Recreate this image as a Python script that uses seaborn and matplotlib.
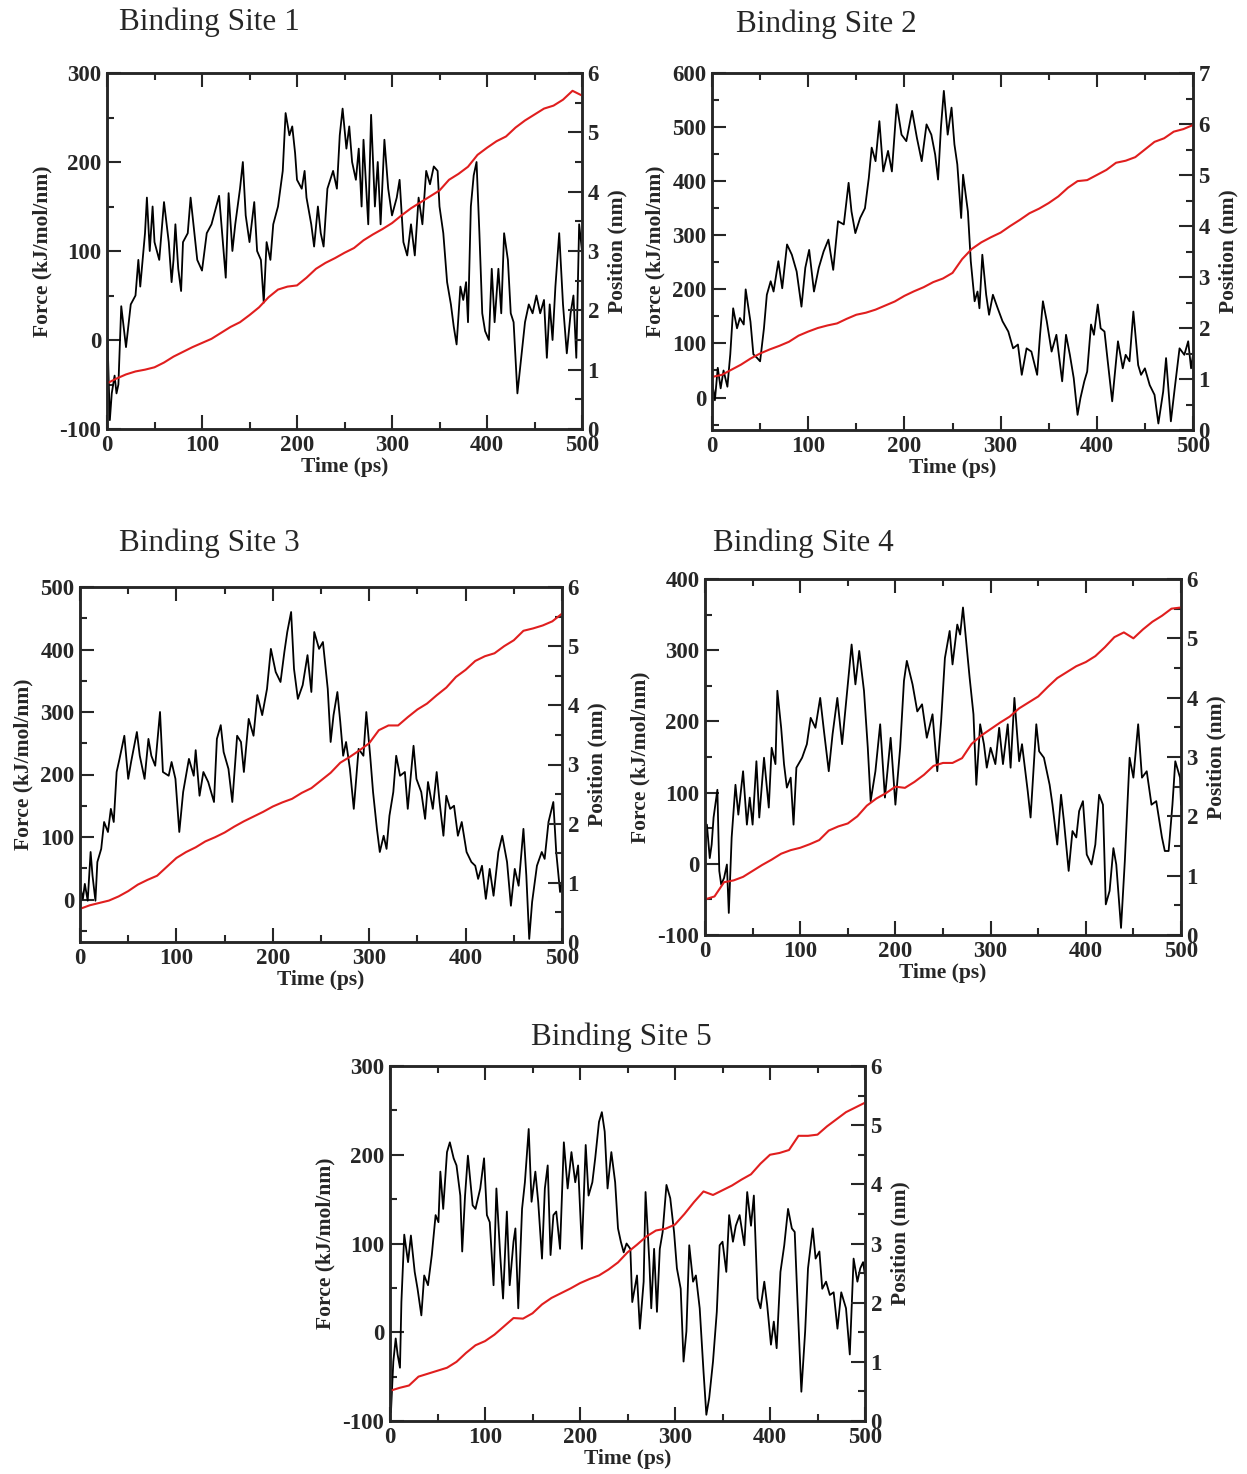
import seaborn as sns
import matplotlib.pyplot as plt
import pandas as pd
from matplotlib.ticker import MultipleLocator

# ---- data ----
pos_time = list(range(0, 501, 10))

# Binding Site 1
t1 = [0, 3, 5, 8, 10, 12, 15, 18, 20, 25, 30, 33, 35, 40, 42, 45, 48, 50, 55, 60,
      65, 68, 70, 72, 75, 78, 80, 85, 88, 92, 95, 100, 105, 110, 115, 118, 122, 125, 128, 132,
      135, 140, 143, 146, 150, 155, 158, 162, 165, 168, 172, 175, 180, 185, 188, 192, 195, 198, 200, 205,
      208, 210, 215, 218, 222, 225, 228, 232, 238, 242, 245, 248, 252, 255, 258, 262, 265, 268, 270, 275,
      278, 282, 285, 288, 292, 296, 300, 305, 308, 312, 316, 320, 324, 328, 332, 336, 340, 344, 348, 350,
      354, 358, 362, 365, 368, 372, 375, 378, 380, 383, 386, 389, 392, 395, 398, 402, 405, 408, 412, 415,
      418, 422, 425, 428, 432, 436, 440, 444, 448, 452, 456, 460, 463, 466, 469, 472, 476, 480, 484, 488,
      491, 494, 497, 500]
f1 = [20, -90, -60, -40, -60, -50, 38, 10, -8, 40, 50, 90, 60, 120, 160, 100, 150, 110, 90, 155,
      110, 65, 90, 130, 80, 55, 110, 120, 160, 120, 90, 78, 120, 130, 150, 162, 110, 70, 165, 100,
      130, 170, 200, 140, 110, 155, 100, 90, 42, 110, 90, 130, 150, 190, 255, 230, 240, 210, 180, 170,
      190, 160, 130, 105, 150, 120, 105, 170, 190, 170, 230, 260, 215, 240, 200, 180, 215, 150, 225, 130,
      253, 150, 200, 130, 225, 170, 140, 160, 180, 110, 95, 130, 95, 160, 130, 190, 175, 195, 190, 150,
      120, 65, 40, 15, -5, 60, 45, 65, 20, 150, 185, 200, 120, 30, 10, 0, 80, 20, 80, 30,
      120, 90, 30, 20, -60, -20, 20, 40, 30, 50, 30, 45, -20, 40, 0, 60, 120, 40, -15, 30,
      50, -20, 130, 100]
p1 = [0.77, 0.85, 0.92, 0.97, 1.0, 1.04, 1.12, 1.22, 1.3, 1.38,
      1.45, 1.52, 1.62, 1.72, 1.8, 1.92, 2.05, 2.22, 2.35, 2.4,
      2.42, 2.55, 2.7, 2.8, 2.88, 2.97, 3.05, 3.18, 3.28, 3.37,
      3.47, 3.6, 3.72, 3.82, 3.92, 4.02, 4.2, 4.3, 4.42, 4.62,
      4.74, 4.85, 4.93, 5.08, 5.2, 5.3, 5.4, 5.45, 5.55, 5.7, 5.62]

# Binding Site 2
t2 = [0, 3, 6, 9, 12, 16, 19, 22, 26, 29, 33, 35, 40, 43, 47, 50, 54, 57, 61, 64,
      69, 73, 78, 83, 88, 93, 97, 101, 106, 111, 116, 121, 126, 131, 137, 142, 145, 149, 154, 159,
      163, 166, 170, 174, 178, 183, 187, 192, 197, 202, 208, 213, 218, 223, 228, 232, 235, 238, 241, 245,
      249, 252, 255, 259, 261, 266, 269, 273, 276, 278, 281, 285, 288, 292, 297, 302, 308, 313, 318, 322,
      327, 332, 338, 341, 344, 348, 353, 358, 364, 368, 372, 376, 380, 383, 387, 390, 394, 397, 401, 404,
      408, 411, 416, 422, 427, 430, 434, 438, 443, 446, 450, 455, 460, 464, 469, 472, 477, 481, 486, 491,
      495, 498, 500]
f2 = [30, -5, 55, 17, 50, 20, 80, 165, 128, 147, 135, 200, 140, 80, 73, 67, 128, 190, 215, 196,
      252, 202, 283, 264, 233, 168, 240, 273, 196, 240, 270, 292, 236, 326, 320, 397, 344, 304, 332, 350,
      406, 462, 437, 511, 418, 456, 418, 542, 486, 474, 530, 480, 437, 505, 486, 449, 403, 500, 567, 486,
      536, 468, 431, 332, 412, 344, 252, 178, 196, 165, 264, 190, 153, 190, 165, 141, 122, 91, 98, 42,
      91, 85, 42, 116, 178, 141, 85, 116, 30, 116, 79, 36, -32, -1, 30, 48, 135, 116, 172, 128,
      122, 73, -7, 104, 54, 79, 67, 159, 60, 42, 54, 23, 5, -48, 11, 73, -44, 17, 91, 79,
      104, 54, 79]
p2 = [1.04, 1.08, 1.18, 1.28, 1.4, 1.5, 1.58, 1.65, 1.73, 1.85,
      1.93, 2.0, 2.05, 2.09, 2.18, 2.26, 2.3, 2.36, 2.44, 2.52,
      2.63, 2.72, 2.8, 2.9, 2.97, 3.08, 3.35, 3.55, 3.68, 3.78,
      3.87, 4.0, 4.12, 4.25, 4.34, 4.45, 4.58, 4.75, 4.88, 4.9,
      5.0, 5.1, 5.24, 5.28, 5.35, 5.5, 5.65, 5.72, 5.85, 5.9, 5.98]

# Binding Site 3
t3 = [0, 3, 5, 8, 11, 13, 16, 18, 22, 25, 29, 32, 35, 38, 41, 46, 50, 53, 59, 62,
      67, 71, 74, 78, 83, 86, 92, 95, 99, 103, 107, 113, 118, 120, 124, 128, 133, 139, 142, 146,
      149, 154, 158, 163, 167, 170, 175, 180, 184, 189, 194, 198, 203, 208, 212, 215, 219, 222, 226, 231,
      236, 240, 243, 248, 252, 257, 260, 263, 267, 270, 273, 276, 280, 284, 289, 294, 297, 301, 304, 308,
      311, 315, 318, 321, 325, 328, 332, 337, 340, 346, 349, 354, 358, 361, 366, 370, 373, 377, 380, 384,
      388, 392, 396, 401, 406, 410, 413, 417, 421, 425, 429, 434, 438, 443, 447, 451, 455, 460, 463, 466,
      469, 474, 479, 482, 486, 491, 494, 498, 500]
f3 = [22, 1, 25, -2, 76, 38, -2, 60, 81, 124, 108, 145, 124, 204, 225, 262, 193, 220, 268, 230,
      193, 257, 230, 214, 300, 204, 198, 220, 193, 108, 172, 225, 198, 239, 166, 204, 188, 156, 257, 279,
      236, 209, 156, 262, 252, 204, 289, 262, 327, 295, 337, 401, 364, 348, 396, 428, 460, 369, 321, 343,
      391, 332, 428, 401, 412, 337, 252, 295, 332, 284, 230, 252, 209, 145, 241, 230, 300, 230, 172, 113,
      76, 102, 81, 134, 172, 230, 198, 204, 145, 246, 193, 172, 129, 188, 145, 204, 156, 102, 166, 145,
      150, 102, 124, 76, 60, 54, 33, 54, 1, 49, 6, 76, 102, 60, -10, 49, 22, 113, 38, -63,
      -4, 54, 76, 65, 124, 156, 76, 12, 30]
p3 = [0.56, 0.62, 0.66, 0.7, 0.77, 0.86, 0.97, 1.05, 1.12, 1.27,
      1.42, 1.52, 1.6, 1.7, 1.77, 1.85, 1.95, 2.04, 2.12, 2.2,
      2.29, 2.36, 2.42, 2.52, 2.6, 2.73, 2.86, 3.03, 3.13, 3.24,
      3.36, 3.58, 3.66, 3.66, 3.8, 3.93, 4.03, 4.17, 4.3, 4.48,
      4.6, 4.75, 4.83, 4.88, 5.0, 5.1, 5.26, 5.3, 5.35, 5.42, 5.55]

# Binding Site 4
t4 = [0, 2, 5, 7, 9, 13, 15, 17, 20, 23, 25, 28, 32, 35, 40, 44, 47, 50, 54, 57,
      62, 67, 70, 74, 76, 80, 83, 86, 90, 93, 96, 102, 107, 111, 116, 121, 125, 130, 134, 139,
      144, 149, 154, 158, 162, 167, 171, 174, 179, 184, 189, 195, 200, 205, 209, 212, 218, 223, 228, 233,
      239, 244, 248, 252, 257, 260, 265, 268, 271, 275, 278, 282, 285, 289, 293, 296, 300, 305, 309, 313,
      318, 321, 325, 330, 333, 339, 342, 348, 351, 356, 362, 365, 370, 374, 377, 382, 386, 390, 393, 397,
      401, 406, 410, 414, 418, 421, 425, 429, 432, 437, 441, 446, 450, 455, 459, 464, 469, 474, 480, 483,
      487, 491, 494, 499, 500]
f4 = [13, 55, 8, 27, 65, 104, -10, -29, -20, -1, -69, 37, 111, 69, 130, 55, 93, 55, 144, 65,
      149, 79, 163, 140, 243, 191, 140, 107, 121, 55, 135, 149, 168, 205, 191, 233, 186, 130, 182, 233,
      168, 238, 308, 252, 299, 243, 163, 88, 130, 196, 93, 177, 83, 163, 257, 285, 252, 214, 224, 177,
      210, 130, 200, 289, 327, 280, 336, 322, 360, 303, 261, 210, 111, 196, 168, 135, 163, 140, 191, 140,
      196, 135, 233, 144, 168, 102, 65, 196, 158, 149, 111, 83, 27, 97, 60, -10, 46, 37, 74, 88,
      13, -1, 27, 97, 83, -57, -38, 22, -1, -90, 4, 149, 121, 196, 121, 130, 83, 88, 37, 18,
      18, 83, 144, 121, 83]
p4 = [0.6, 0.65, 0.89, 0.92, 0.98, 1.08, 1.18, 1.27, 1.37, 1.43,
      1.47, 1.53, 1.6, 1.76, 1.83, 1.88, 2.0, 2.18, 2.3, 2.39,
      2.5, 2.48, 2.58, 2.7, 2.85, 2.9, 2.9, 2.98, 3.22, 3.36,
      3.47, 3.58, 3.68, 3.82, 3.92, 4.02, 4.18, 4.33, 4.43, 4.53,
      4.6, 4.7, 4.85, 5.02, 5.1, 5.0, 5.15, 5.28, 5.38, 5.5, 5.52]

# Binding Site 5
t5 = [0, 1, 3.5, 6, 8, 10.5, 12, 15, 19, 22, 26, 29, 33, 36, 40, 44, 48, 51, 53, 56,
      60, 63, 67, 70, 74, 76, 79, 82, 87, 90, 95, 99, 102, 105, 109, 112, 116, 119, 123, 126,
      130, 132, 135, 139, 142, 146, 149, 153, 156, 160, 163, 166, 169, 172, 175, 179, 183, 187, 191, 195,
      198, 202, 206, 209, 213, 216, 220, 223, 226, 229, 233, 237, 240, 243, 246, 249, 253, 255, 260, 263,
      267, 269, 273, 275, 278, 281, 284, 287, 291, 295, 299, 302, 306, 309, 312, 315, 319, 322, 326, 330,
      333, 336, 340, 344, 347, 350, 354, 357, 361, 364, 368, 373, 376, 380, 383, 387, 390, 394, 397, 401,
      404, 407, 411, 415, 419, 423, 426, 429, 433, 437, 440, 445, 448, 452, 455, 459, 463, 467, 471, 475,
      480, 484, 488, 492, 495, 498, 500]
f5 = [-50, -90, -33, -7, -25, -40, 34, 110, 79, 109, 68, 49, 19, 64, 53, 87, 132, 124, 181, 139,
      203, 214, 196, 188, 154, 91, 154, 199, 143, 139, 162, 196, 132, 124, 53, 162, 87, 38, 136, 53,
      102, 117, 27, 139, 169, 229, 147, 181, 147, 83, 162, 188, 87, 132, 136, 94, 214, 162, 203, 169,
      188, 94, 211, 154, 169, 196, 237, 248, 226, 162, 203, 169, 117, 102, 90, 100, 94, 34, 64, 4,
      57, 158, 79, 27, 94, 23, 94, 113, 166, 151, 113, 72, 49, -33, 1, 98, 57, 64, 27, -44,
      -93, -74, -33, 23, 98, 102, 68, 132, 102, 120, 132, 98, 158, 120, 154, 38, 27, 57, 31, -14,
      12, -18, 68, 98, 139, 117, 113, 34, -67, 1, 72, 117, 83, 91, 49, 57, 42, 45, 4, 45,
      27, -25, 83, 57, 72, 79, 64]
p5 = [0.51, 0.56, 0.6, 0.75, 0.8, 0.85, 0.9, 1.0, 1.15, 1.28,
      1.35, 1.46, 1.6, 1.74, 1.73, 1.82, 1.97, 2.08, 2.16, 2.24,
      2.33, 2.4, 2.46, 2.56, 2.68, 2.85, 2.98, 3.12, 3.22, 3.25,
      3.32, 3.5, 3.7, 3.88, 3.82, 3.9, 3.98, 4.08, 4.17, 4.35,
      4.5, 4.53, 4.58, 4.82, 4.82, 4.84, 4.98, 5.1, 5.22, 5.3, 5.38]

titles = ["Binding Site 1", "Binding Site 2", "Binding Site 3", "Binding Site 4", "Binding Site 5"]

W, H = 1247, 1474
TICK_FS = 16.5
LABEL_FS = 15.5


def style_axis(ax):
    ax.tick_params(which='both', direction='in', width=1.5, labelsize=TICK_FS, pad=4)
    ax.tick_params(which='major', length=10)
    ax.tick_params(which='minor', length=5)
    for s in ax.spines.values():
        s.set_linewidth(1.8)
        s.set_visible(True)


def draw_panel(fig, box, title, title_xy, t, force, pos, flim, plim):
    # box in pixels: left, top, right, bottom
    l, tp, r, b = box
    ax = fig.add_axes([l / W, 1 - b / H, (r - l) / W, (b - tp) / H])
    df = pd.DataFrame({'Time': t, 'Force': force})
    sns.lineplot(data=df, x='Time', y='Force', color='black', lw=1.3,
                 estimator=None, ax=ax)
    ax.set_xlim(0, 500)
    ax.set_ylim(*flim)
    ax.xaxis.set_major_locator(MultipleLocator(100))
    ax.xaxis.set_minor_locator(MultipleLocator(50))
    ax.yaxis.set_major_locator(MultipleLocator(100))
    ax.yaxis.set_minor_locator(MultipleLocator(50))
    style_axis(ax)
    ax.tick_params(which='both', top=True, right=False)
    ax.set_xlabel("Time (ps)", fontsize=LABEL_FS, labelpad=1)
    ax.set_ylabel("Force (kJ/mol/nm)", fontsize=LABEL_FS, labelpad=5)

    ax2 = ax.twinx()
    pdf = pd.DataFrame({'Time': pos_time, 'Position': pos})
    sns.lineplot(data=pdf, x='Time', y='Position', color='#e01e1e', lw=1.5,
                 estimator=None, ax=ax2)
    ax2.set_ylim(*plim)
    ax2.yaxis.set_major_locator(MultipleLocator(1))
    ax2.yaxis.set_minor_locator(MultipleLocator(0.5))
    style_axis(ax2)
    ax2.tick_params(which='both', left=False, right=True, top=False)
    ax2.set_ylabel("Position (nm)", fontsize=LABEL_FS, labelpad=6, rotation=90)

    fig.text(title_xy[0] / W, 1 - title_xy[1] / H, title, ha='center', va='center',
             fontsize=22.5, fontweight='normal')
    return ax


sns.set_style("ticks")
plt.rcParams['font.family'] = ['Liberation Serif', 'DejaVu Serif']
plt.rcParams['font.weight'] = 'bold'
plt.rcParams['axes.labelweight'] = 'bold'
plt.rcParams['axes.unicode_minus'] = False

fig = plt.figure(figsize=(W / 100, H / 100), dpi=100)

draw_panel(fig, (107, 73, 582, 429), titles[0], (209, 22), t1, f1, p1, (-100, 300), (0, 6))
draw_panel(fig, (712, 73, 1193, 430), titles[1], (826, 24), t2, f2, p2, (-60, 600), (0, 7))
draw_panel(fig, (80, 587, 562, 942), titles[2], (209, 543), t3, f3, p3, (-68, 500), (0, 6))
draw_panel(fig, (705, 579, 1181, 935), titles[3], (803, 543), t4, f4, p4, (-100, 400), (0, 6))
draw_panel(fig, (390, 1066, 865, 1421), titles[4], (621, 1037), t5, f5, p5, (-100, 300), (0, 6))

fig.savefig("out.png", dpi=100, facecolor='white')
